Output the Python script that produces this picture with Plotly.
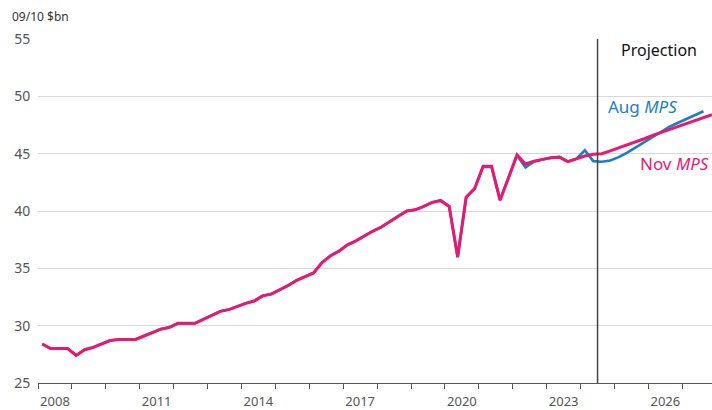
import plotly.graph_objects as go

# Quarterly categories, Q1 2008 .. Q4 2027
years = list(range(2008, 2028))
quarters = [f"{y} Q{q}" for y in years for q in (1, 2, 3, 4)]

nov_mps = [
    28.4, 28.0, 28.0, 28.0,
    27.4, 27.9, 28.1, 28.4,
    28.7, 28.8, 28.8, 28.8,
    29.1, 29.4, 29.7, 29.85,
    30.2, 30.2, 30.2, 30.55,
    30.9, 31.25, 31.4, 31.7,
    31.95, 32.15, 32.6, 32.75,
    33.1, 33.5, 33.95, 34.3,
    34.6, 35.5, 36.1, 36.5,
    37.05, 37.4, 37.85, 38.25,
    38.6, 39.1, 39.55, 40.0,
    40.1, 40.4, 40.75, 40.9,
    40.4, 36.0, 41.2, 41.95,
    43.9, 43.9, 40.95, 42.9,
    44.9, 44.1, 44.35, 44.5,
    44.65, 44.7, 44.3, 44.55,
    44.8, 44.95, 45.0, 45.25,
    45.5, 45.8, 46.05, 46.3,
    46.6, 46.85, 47.1, 47.4,
    47.65, 47.9, 48.15, 48.4,
]

aug_mps = [
    28.4, 28.0, 28.0, 28.0,
    27.4, 27.9, 28.1, 28.4,
    28.7, 28.8, 28.8, 28.8,
    29.1, 29.4, 29.7, 29.85,
    30.2, 30.2, 30.2, 30.55,
    30.9, 31.25, 31.4, 31.7,
    31.95, 32.15, 32.6, 32.75,
    33.1, 33.5, 33.95, 34.3,
    34.6, 35.5, 36.1, 36.5,
    37.05, 37.4, 37.85, 38.25,
    38.6, 39.1, 39.55, 40.0,
    40.1, 40.4, 40.75, 40.95,
    40.4, 35.95, 41.2, 41.95,
    43.85, 43.85, 40.95, 42.9,
    44.85, 43.8, 44.3, 44.5,
    44.65, 44.7, 44.3, 44.55,
    45.3, 44.35, 44.3, 44.4,
    44.7, 45.1, 45.55, 46.0,
    46.5, 46.95, 47.35, 47.7,
    48.05, 48.4, 48.7,
]

label_years = [2008, 2011, 2014, 2017, 2020, 2023, 2026]
projection_start = "2024 Q3"

def qpos(label):
    y, q = label.split(" Q")
    return int(y) + (int(q) - 1) * 0.25 + 0.125

x_nov = [qpos(q) for q in quarters[:len(nov_mps)]]
x_aug = [qpos(q) for q in quarters[:len(aug_mps)]]
proj_x = qpos(projection_start) - 0.125

PINK = "#E8196F"
BLUE = "#1A80C4"
FONT = "Noto Sans"

fig = go.Figure()
fig.add_trace(go.Scatter(x=x_aug, y=aug_mps, mode="lines", name="Aug MPS",
                         line=dict(color=BLUE, width=2.6), hoverinfo="skip"))
fig.add_trace(go.Scatter(x=x_nov, y=nov_mps, mode="lines", name="Nov MPS",
                         line=dict(color=PINK, width=3), hoverinfo="skip"))

fig.add_shape(type="line", xref="x", yref="y", x0=proj_x, x1=proj_x, y0=25, y1=55,
              line=dict(color="#444444", width=1.5))

fig.add_annotation(x=proj_x + 1.8, y=54.0, xref="x", yref="y", text="Projection",
                   showarrow=False, font=dict(family=FONT, size=16, color="#111111"))
fig.add_annotation(x=2025.84, y=49.1, xref="x", yref="y", text="Aug <i>MPS</i>",
                   showarrow=False, font=dict(family=FONT, size=17, color=BLUE))
fig.add_annotation(x=2026.76, y=44.15, xref="x", yref="y", text="Nov <i>MPS</i>",
                   showarrow=False, font=dict(family=FONT, size=17, color=PINK))
fig.add_annotation(x=-28 / 674, y=1 + 22 / 344, xref="paper", yref="paper",
                   text="09/10 $bn", xanchor="left", yanchor="middle",
                   showarrow=False, font=dict(family=FONT, size=12, color="#333333"))

fig.update_layout(
    width=712, height=410,
    margin=dict(l=38, r=0, t=39, b=27),
    paper_bgcolor="white", plot_bgcolor="white",
    showlegend=False,
    font=dict(family=FONT, color="#555555"),
)

fig.update_xaxes(
    range=[2008, 2027.875],
    tickmode="array",
    tickvals=[y + 0.5 for y in label_years],
    ticktext=[str(y) for y in label_years],
    ticks="outside", ticklen=6, tickcolor="rgba(0,0,0,0)",
    showgrid=False, zeroline=False, automargin=False,
    showline=True, linecolor="#555555", linewidth=1,
    tickfont=dict(family=FONT, size=13, color="#555555"),
    minor=dict(tickmode="array", tickvals=years, ticks="outside", ticklen=5,
               tickwidth=1, tickcolor="#555555", showgrid=False),
)
fig.update_yaxes(
    range=[25, 55], tickmode="array", tickvals=[25, 30, 35, 40, 45, 50, 55],
    showgrid=True, gridcolor="#D9D9D9", gridwidth=1, zeroline=False, automargin=False,
    ticks="outside", ticklen=4, tickcolor="rgba(0,0,0,0)",
    tickfont=dict(family=FONT, size=14, color="#555555"),
)

fig.write_html("out.html", config={"displayModeBar": False},
               post_script="document.body.style.margin='0';document.body.style.padding='0';")
